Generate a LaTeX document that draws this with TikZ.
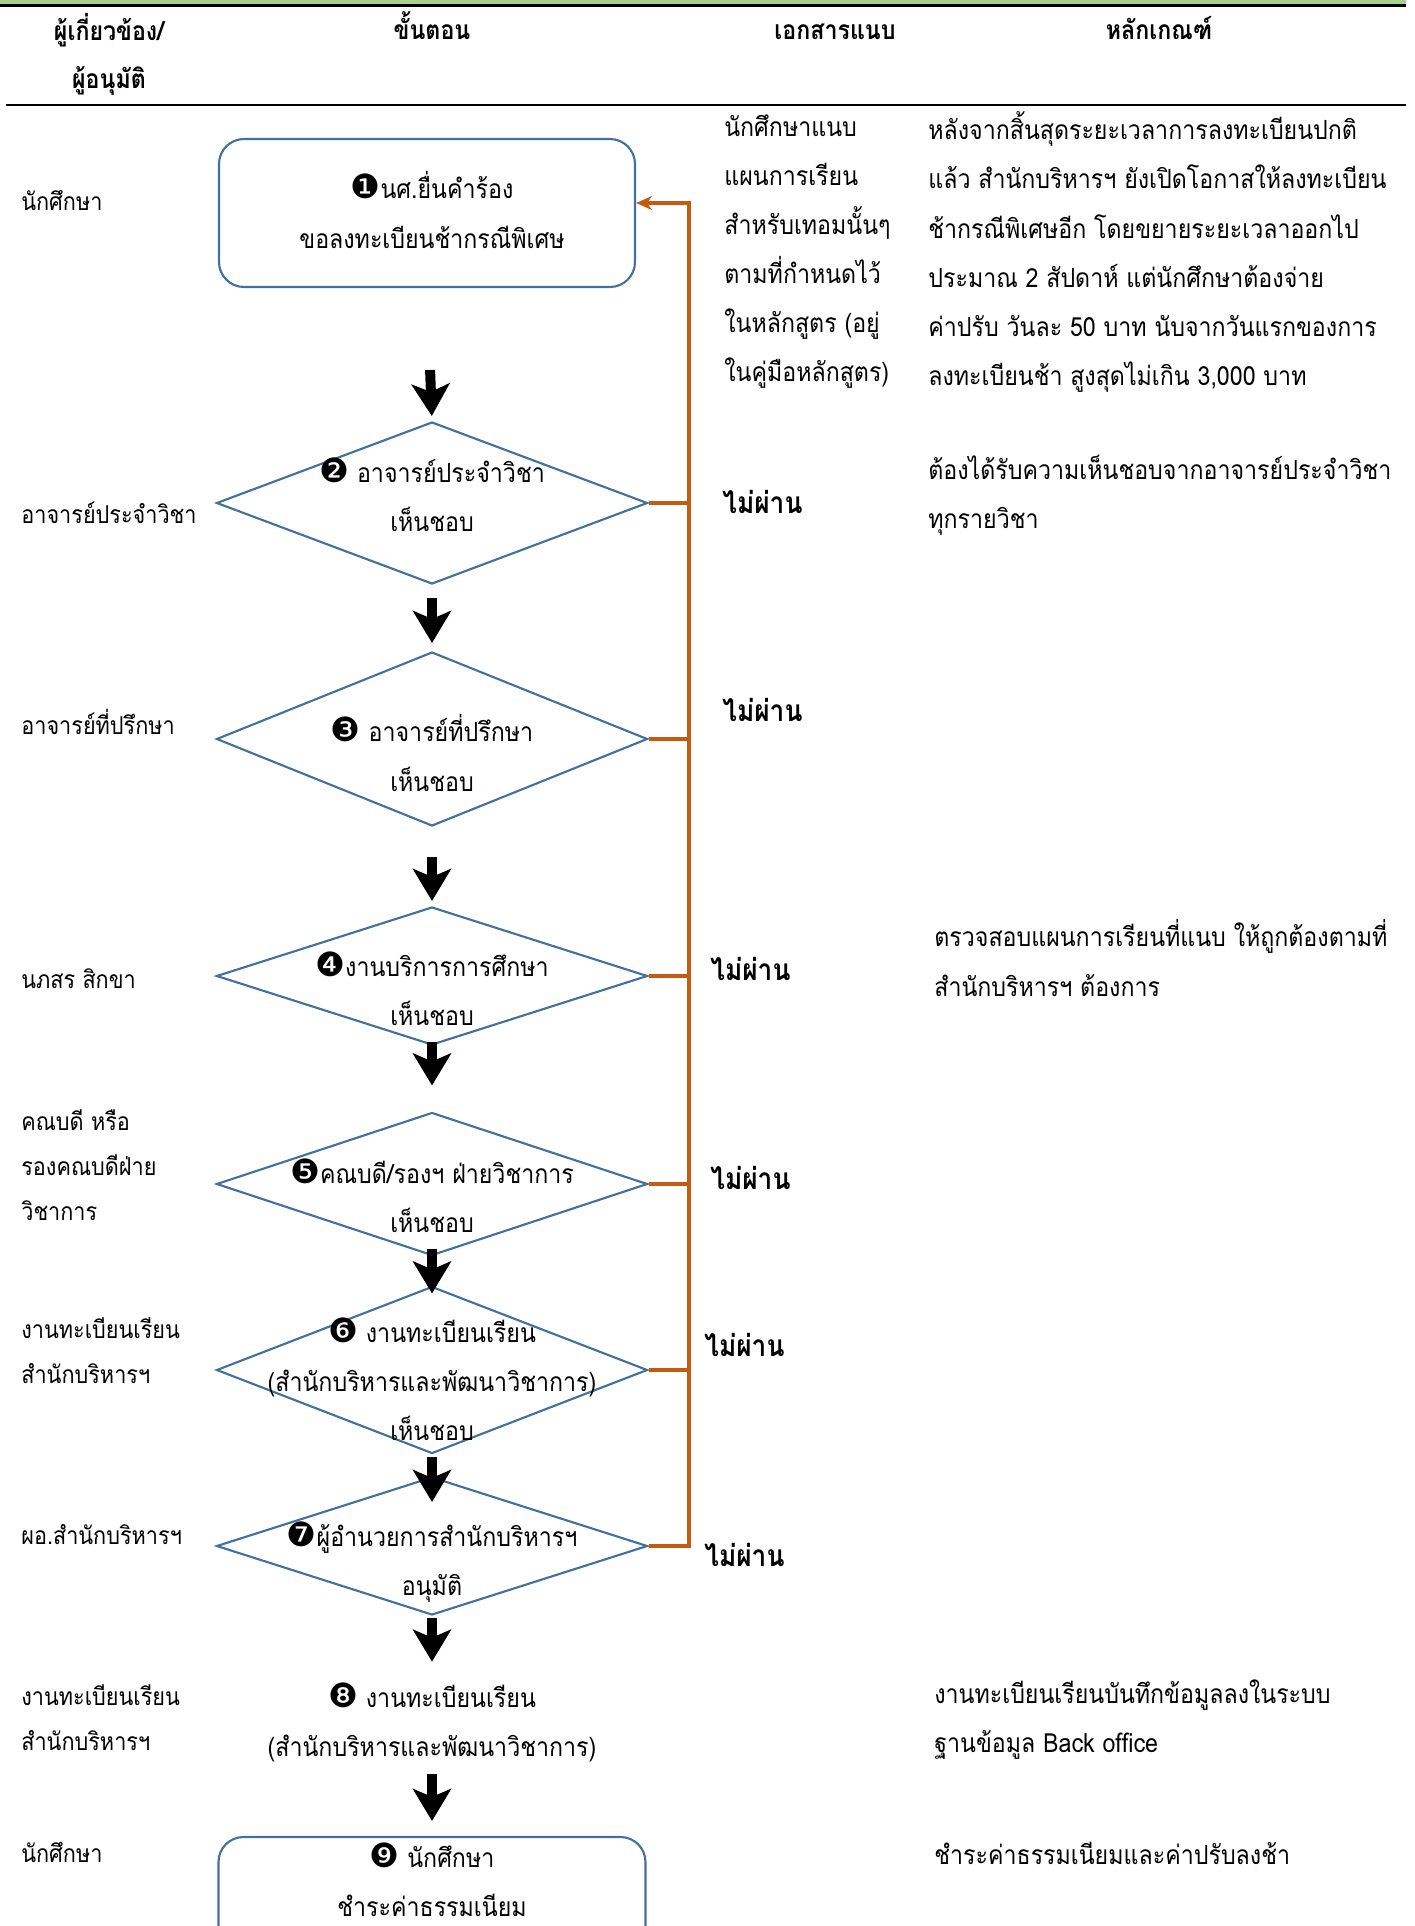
\documentclass[tikz,border=0pt]{standalone}
\usepackage{fontspec}
\setmainfont[Script=Thai, FakeStretch=0.88]{Loma}
\newfontfamily\numfont{DejaVu Sans}
\usetikzlibrary{shapes.geometric, arrows.meta, positioning}

\definecolor{boxblue}{RGB}{65,113,156}
\definecolor{failorange}{RGB}{197,90,17}
\definecolor{headgreen}{RGB}{169,209,142}

\newcommand{\stepno}[1]{{\numfont\fontsize{19}{19}\selectfont #1}}

\begin{document}
\begin{tikzpicture}[
        x=0.2mm, y=-0.2mm,
        txt/.style={font=\fontsize{15}{27.9}\selectfont, inner sep=0pt, align=left, anchor=west},
        who/.style={font=\fontsize{14}{25.6}\selectfont, inner sep=0pt, align=left, anchor=west},
        head/.style={font=\bfseries\fontsize{15}{27.3}\selectfont, inner sep=0pt, align=center},
        steptext/.style={font=\fontsize{15}{27.9}\selectfont, inner sep=0pt, align=center},
        startstop/.style={rectangle, rounded corners=5mm, draw=boxblue, line width=1.2pt, minimum height=29.6mm},
        decision/.style={diamond, draw=boxblue, line width=1.2pt, inner sep=0pt, minimum width=86.2mm},
        fail/.style={draw=failorange, line width=2pt},
        failtext/.style={font=\bfseries\fontsize{17}{20}\selectfont, inner sep=0pt, anchor=west},
        flow/.style={-{Stealth[length=6.4mm, width=7.6mm, inset=1.6mm]}, line width=2mm}
    ]

    \useasboundingbox (0,0) rectangle (1415,1926);
    \clip (0,0) rectangle (1415,1926);
    \fill [white] (0,0) rectangle (1415,1926);

    \fill [headgreen] (0,0) rectangle (1406,4.5);
    \draw [line width=0.5mm] (0,5.5) -- (1406,5.5);
    \draw [line width=0.5mm] (6,105) -- (1406,105);

    \node (hwho) [head] at (109,54) {ผู้เกี่ยวข้อง/\\ผู้อนุมัติ};
    \node (hstep) [head, anchor=base] at (432,39) {ขั้นตอน};
    \node (hdoc) [head, anchor=base] at (835,39) {เอกสารแนบ};
    \node (hrule) [head, anchor=base] at (1159,39) {หลักเกณฑ์};

    \node (box1) [startstop, minimum width=83.2mm] at (427,213) {};
    \node (s1) [steptext] at (432,210) {\stepno{❶}นศ.ยื่นคำร้อง\\ขอลงทะเบียนช้ากรณีพิเศษ};

    \node (d2) [decision, minimum height=32.4mm] at (432,503) {};
    \node (s2) [steptext] at (432,495) {\stepno{❷} อาจารย์ประจำวิชา\\เห็นชอบ};

    \node (d3) [decision, minimum height=34.8mm] at (432,739) {};
    \node (s3) [steptext] at (432,753) {\stepno{❸} อาจารย์ที่ปรึกษา\\เห็นชอบ};

    \node (d4) [decision, minimum height=27.6mm] at (432,976) {};
    \node (s4) [steptext] at (432,989) {\stepno{❹}งานบริการการศึกษา\\เห็นชอบ};

    \node (d5) [decision, minimum height=28.6mm] at (432,1184) {};
    \node (s5) [steptext] at (432,1196) {\stepno{❺}คณบดี/รองฯ ฝ่ายวิชาการ\\เห็นชอบ};

    \node (d6) [decision, minimum height=33.4mm] at (432,1370) {};
    \node (s6) [steptext] at (432,1379) {\stepno{❻} งานทะเบียนเรียน\\(สำนักบริหารและพัฒนาวิชาการ)\\เห็นชอบ};

    \node (d7) [decision, minimum height=27.6mm] at (432,1546) {};
    \node (s7) [steptext] at (432,1562) {\stepno{❼}ผู้อำนวยการสำนักบริหารฯ\\อนุมัติ};

    \node (s8) [steptext, minimum height=20mm] at (432,1722) {\stepno{❽} งานทะเบียนเรียน\\(สำนักบริหารและพัฒนาวิชาการ)};

    \node (box9) [startstop, minimum width=85.4mm] at (432,1911) {};
    \node (s9) [steptext] at (432,1880) {\stepno{❾} นักศึกษา\\ชำระค่าธรรมเนียม};

    \draw [flow, shorten <=16.4mm, shorten >=1mm] (box1.south) -- (d2.north);
    \draw [flow, shorten <=2.6mm, shorten >=1.6mm] (d2.south) -- (d3.north);
    \draw [flow, shorten <=6mm, shorten >=1mm] (d3.south) -- (d4.north);
    \draw [flow, shorten <=-0.8mm, shorten >=5.2mm] (d4.south) -- (d5.north);
    \draw [flow, shorten <=-1.6mm, shorten >=-1.6mm] (d5.south) -- (d6.north);
    \draw [flow, shorten <=0.5mm, shorten >=-5.2mm] (d6.south) -- (d7.north);
    \draw [flow, shorten <=0.4mm, shorten >=2mm] (d7.south) -- (s8.north);
    \draw [flow, shorten <=0.4mm, shorten >=3mm] (s8.south) -- (box9.north);

    \coordinate (fb) at (689,203);
    \draw [fail, -{Stealth[length=3.2mm, width=2.8mm]}] (d7.east) -| (fb) -- (fb -| box1.east);
    \foreach \d in {d2,d3,d4,d5,d6}
        \draw [fail] (\d.east) -- (\d.east -| fb);

    \node (n2) [failtext] at (722,502) {ไม่ผ่าน};
    \node (n3) [failtext] at (722,710) {ไม่ผ่าน};
    \node (n4) [failtext] at (710,969) {ไม่ผ่าน};
    \node (n5) [failtext] at (710,1178) {ไม่ผ่าน};
    \node (n6) [failtext] at (704,1345) {ไม่ผ่าน};
    \node (n7) [failtext] at (704,1555) {ไม่ผ่าน};

    \node (w1) [who] at (21,200) {นักศึกษา};
    \node (w2) [who] at (21,513) {อาจารย์ประจำวิชา};
    \node (w3) [who] at (21,722) {อาจารย์ที่ปรึกษา};
    \node (w4) [who] at (21,979) {นภสร สิกขา};
    \node (w5) [who] at (21,1165) {คณบดี หรือ\\รองคณบดีฝ่าย\\วิชาการ};
    \node (w6) [who] at (21,1351) {งานทะเบียนเรียน\\สำนักบริหารฯ};
    \node (w7) [who] at (21,1535) {ผอ.สำนักบริหารฯ};
    \node (w8) [who] at (21,1718) {งานทะเบียนเรียน\\สำนักบริหารฯ};
    \node (w9) [who] at (21,1852) {นักศึกษา};

    \node (doc) [txt] at (724,252) {นักศึกษาแนบ\\แผนการเรียน\\สำหรับเทอมนั้นๆ\\ตามที่กำหนดไว้\\ในหลักสูตร (อยู่\\ในคู่มือหลักสูตร)};

    \node (c1) [txt] at (928,252) {หลังจากสิ้นสุดระยะเวลาการลงทะเบียนปกติ\\แล้ว สำนักบริหารฯ ยังเปิดโอกาสให้ลงทะเบียน\\ช้ากรณีพิเศษอีก โดยขยายระยะเวลาออกไป\\ประมาณ 2 สัปดาห์ แต่นักศึกษาต้องจ่าย\\ค่าปรับ วันละ 50 บาท นับจากวันแรกของการ\\ลงทะเบียนช้า สูงสุดไม่เกิน 3,000 บาท};
    \node (c2) [txt] at (928,495) {ต้องได้รับความเห็นชอบจากอาจารย์ประจำวิชา\\ทุกรายวิชา};
    \node (c3) [txt] at (934,958) {ตรวจสอบแผนการเรียนที่แนบ ให้ถูกต้องตามที่\\สำนักบริหารฯ ต้องการ};
    \node (c4) [txt] at (934,1720) {งานทะเบียนเรียนบันทึกข้อมูลลงในระบบ\\ฐานข้อมูล Back office};
    \node (c5) [txt] at (934,1853) {ชำระค่าธรรมเนียมและค่าปรับลงช้า};

\end{tikzpicture}
\end{document}
